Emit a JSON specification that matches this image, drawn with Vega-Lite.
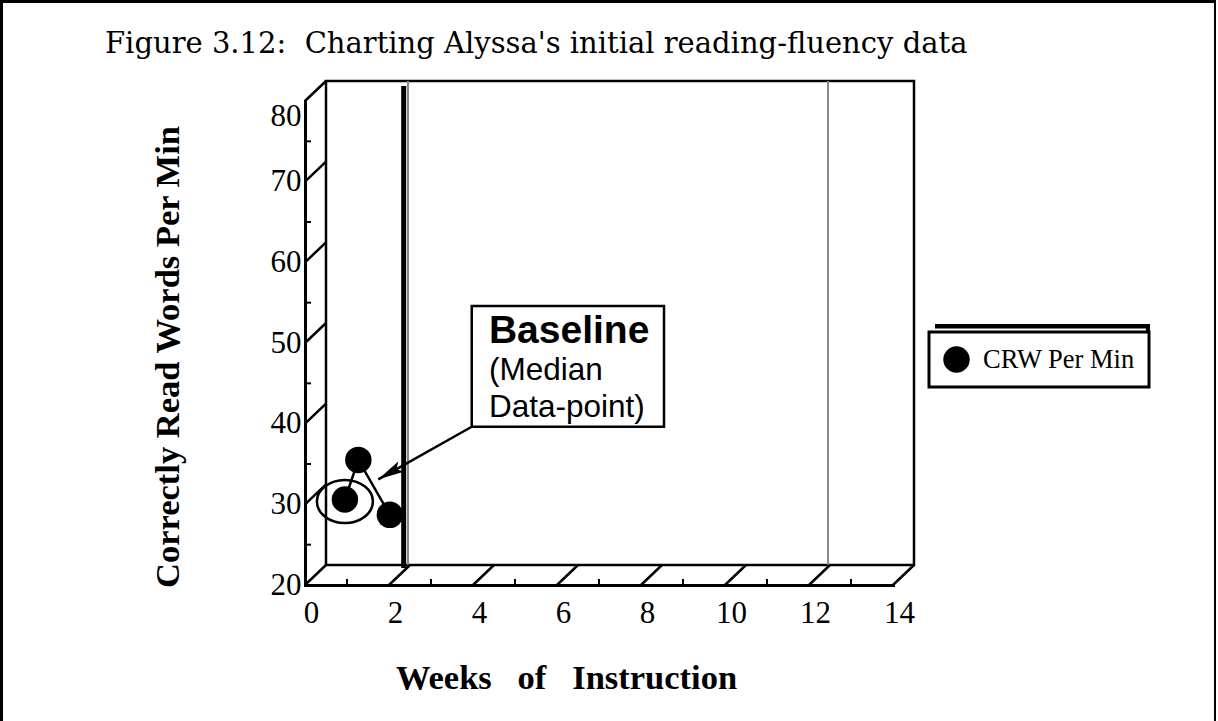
{
  "$schema": "https://vega.github.io/schema/vega-lite/v6.json",
  "width": 1214,
  "height": 740,
  "autosize": "none",
  "padding": {"left": 1.5, "top": 1.5, "right": 0, "bottom": 0},
  "background": "white",
  "title": {
    "text": "Figure 3.12:\u00a0 Charting Alyssa's initial reading-fluency data",
    "anchor": "start",
    "frame": "group",
    "font": "DejaVu Serif",
    "fontSize": 29,
    "fontWeight": "normal",
    "color": "black",
    "baseline": "alphabetic",
    "offset": 0,
    "dx": 103.5,
    "dy": 80.5
  },
  "config": {
    "view": {"stroke": "black", "strokeWidth": 3},
    "legend": {"strokeWidth": 3}
  },
  "data": {"values": [{}]},
  "datasets": {
    "crw": [
      {"week": 0.95, "crw": 30.6, "series": "CRW Per Min"},
      {"week": 1.27, "crw": 35.5, "series": "CRW Per Min"},
      {"week": 2.02, "crw": 28.7, "series": "CRW Per Min"}
    ],
    "xmajor": [{"v": 0}, {"v": 2}, {"v": 4}, {"v": 6}, {"v": 8}, {"v": 10}, {"v": 12}, {"v": 14}],
    "ymajor": [{"v": 30}, {"v": 40}, {"v": 50}, {"v": 60}, {"v": 70}, {"v": 80}],
    "xminor": [{"v": 1}, {"v": 3}, {"v": 5}, {"v": 7}, {"v": 9}, {"v": 11}, {"v": 13}],
    "yminor": [{"v": 25}, {"v": 35}, {"v": 45}, {"v": 55}, {"v": 65}, {"v": 75}],
    "phase": [{"v": 2}, {"v": 12}]
  },
  "layer": [
    {
      "mark": {"type": "rect", "fill": "transparent", "stroke": "black", "strokeWidth": 2.5, "xOffset": 21, "x2Offset": 21, "yOffset": -20, "y2Offset": -20},
      "encoding": {
        "x": {
          "datum": 0,
          "type": "quantitative",
          "scale": {"domain": [0, 14], "range": [303.5, 891.5], "nice": false, "zero": false},
          "axis": {
            "values": [0, 2, 4, 6, 8, 10, 12, 14],
            "format": "d",
            "offset": -156.5,
            "ticks": false,
            "grid": false,
            "domain": true,
            "domainColor": "black",
            "domainWidth": 3,
            "domainCap": "square",
            "labelFont": "Liberation Serif",
            "labelFontSize": 31,
            "labelColor": "black",
            "labelPadding": 13,
            "labelOffset": 6,
            "labelFlush": false,
            "labelOverlap": false,
            "title": "Weeks\u00a0\u00a0\u00a0of\u00a0\u00a0\u00a0Instruction",
            "titleFont": "Liberation Serif",
            "titleFontSize": 34.5,
            "titleFontWeight": "bold",
            "titleColor": "black",
            "titleX": 564.5,
            "titleY": 103,
            "titleBaseline": "alphabetic",
            "titleAlign": "center"
          }
        },
        "x2": {"datum": 14},
        "y": {
          "datum": 20,
          "type": "quantitative",
          "scale": {"domain": [20, 80], "range": [583.5, 99.5], "nice": false, "zero": false},
          "axis": {
            "values": [20, 30, 40, 50, 60, 70, 80],
            "format": "d",
            "offset": -303.5,
            "ticks": false,
            "grid": false,
            "domain": true,
            "domainColor": "black",
            "domainWidth": 3,
            "domainCap": "square",
            "labelFont": "Liberation Serif",
            "labelFontSize": 31,
            "labelColor": "black",
            "labelPadding": 4,
            "labelFlush": false,
            "labelOverlap": false,
            "labelBaseline": {"condition": {"test": "datum.value == 80", "value": "top"}, "value": "middle"},
            "title": "Correctly Read Words Per Min",
            "titleFont": "Liberation Serif",
            "titleFontSize": 34.5,
            "titleFontWeight": "bold",
            "titleColor": "black",
            "titleX": -127,
            "titleY": 355,
            "titleAngle": -90,
            "titleBaseline": "alphabetic",
            "titleAlign": "center"
          }
        },
        "y2": {"datum": 80}
      }
    },
    {
      "data": {"name": "phase"},
      "mark": {"type": "rule", "color": "#8a8a8a", "strokeWidth": 2, "xOffset": 19, "yOffset": -20, "y2Offset": -20},
      "encoding": {
        "x": {"field": "v", "type": "quantitative"},
        "y": {"datum": 20, "type": "quantitative"},
        "y2": {"datum": 80}
      }
    },
    {
      "data": {"name": "xminor"},
      "mark": {"type": "rule", "color": "black", "strokeWidth": 2, "y2Offset": -6},
      "encoding": {
        "x": {"field": "v", "type": "quantitative"},
        "y": {"datum": 20, "type": "quantitative"},
        "y2": {"datum": 20}
      }
    },
    {
      "data": {"name": "yminor"},
      "mark": {"type": "rule", "color": "black", "strokeWidth": 2, "x2Offset": 6},
      "encoding": {
        "y": {"field": "v", "type": "quantitative"},
        "x": {"datum": 0, "type": "quantitative"},
        "x2": {"datum": 0}
      }
    },
    {
      "data": {"name": "xmajor"},
      "mark": {"type": "rule", "color": "black", "strokeWidth": 2.5, "x2Offset": 21, "y2Offset": -20},
      "encoding": {
        "x": {"field": "v", "type": "quantitative"},
        "x2": {"field": "v"},
        "y": {"datum": 20, "type": "quantitative"},
        "y2": {"datum": 20}
      }
    },
    {
      "data": {"name": "ymajor"},
      "mark": {"type": "rule", "color": "black", "strokeWidth": 2.5, "x2Offset": 21, "y2Offset": -20},
      "encoding": {
        "y": {"field": "v", "type": "quantitative"},
        "y2": {"field": "v"},
        "x": {"datum": 0, "type": "quantitative"},
        "x2": {"datum": 0}
      }
    },
    {
      "mark": {"type": "rule", "color": "black", "strokeWidth": 5},
      "encoding": {
        "x": {"datum": 2.35, "type": "quantitative"},
        "y": {"datum": 22.1, "type": "quantitative"},
        "y2": {"datum": 81.86}
      }
    },
    {
      "data": {"name": "crw"},
      "mark": {"type": "line", "color": "black", "strokeWidth": 2.5},
      "encoding": {
        "x": {"field": "week", "type": "quantitative"},
        "y": {"field": "crw", "type": "quantitative"}
      }
    },
    {
      "data": {"name": "crw"},
      "mark": {"type": "point", "filled": true, "shape": "circle", "size": 700, "opacity": 1, "strokeWidth": 0},
      "encoding": {
        "x": {"field": "week", "type": "quantitative"},
        "y": {"field": "crw", "type": "quantitative"},
        "color": {
          "field": "series",
          "type": "nominal",
          "scale": {"range": ["black"]},
          "legend": {
            "orient": "none",
            "legendX": 927.5,
            "legendY": 330.5,
            "title": null,
            "padding": 14,
            "strokeColor": "black",
            "fillColor": "white",
            "labelFont": "Liberation Serif",
            "labelFontSize": 26.5,
            "labelColor": "black",
            "labelOffset": 13,
            "labelLimit": 400,
            "symbolType": "circle",
            "symbolSize": 700,
            "symbolFillColor": "black",
            "symbolStrokeWidth": 0,
            "encode": {"legend": {"update": {"strokeWidth": {"value": 3}}}}
          }
        }
      }
    },
    {
      "data": {"name": "crw"},
      "transform": [{"filter": "datum.week == 0.95"}],
      "mark": {"type": "point", "filled": false, "shape": "M -1 0 A 1 0.77 0 1 1 1 0 A 1 0.77 0 1 1 -1 0 Z", "size": 3136, "color": "black", "strokeWidth": 2.5, "opacity": 1, "yOffset": 2},
      "encoding": {
        "x": {"field": "week", "type": "quantitative"},
        "y": {"field": "crw", "type": "quantitative"}
      }
    },
    {
      "mark": {"type": "rect", "fill": "white", "stroke": "black", "strokeWidth": 2.5},
      "encoding": {
        "x": {"datum": 3.97, "type": "quantitative"},
        "x2": {"datum": 8.548},
        "y": {"datum": 39.62, "type": "quantitative"},
        "y2": {"datum": 54.59}
      }
    },
    {
      "mark": {"type": "rule", "color": "black", "strokeWidth": 2.5},
      "encoding": {
        "x": {"datum": 3.97, "type": "quantitative"},
        "y": {"datum": 39.62, "type": "quantitative"},
        "x2": {"datum": 1.745},
        "y2": {"datum": 33.1}
      }
    },
    {
      "mark": {"type": "point", "filled": true, "shape": "M 1 0 L -1 -0.45 L -0.6 0 L -1 0.45 Z", "size": 676, "angle": 151, "color": "black", "opacity": 1, "strokeWidth": 0},
      "encoding": {
        "x": {"datum": 2.016, "type": "quantitative"},
        "y": {"datum": 33.89, "type": "quantitative"}
      }
    },
    {
      "mark": {"type": "text", "text": "Baseline", "font": "Liberation Sans", "fontSize": 39, "fontWeight": "bold", "align": "left", "baseline": "alphabetic", "color": "black"},
      "encoding": {
        "x": {"datum": 4.38, "type": "quantitative"},
        "y": {"datum": 49.95, "type": "quantitative"}
      }
    },
    {
      "mark": {"type": "text", "text": "(Median", "font": "Liberation Sans", "fontSize": 31.5, "align": "left", "baseline": "alphabetic", "color": "black"},
      "encoding": {
        "x": {"datum": 4.38, "type": "quantitative"},
        "y": {"datum": 45.37, "type": "quantitative"}
      }
    },
    {
      "mark": {"type": "text", "text": "Data-point)", "font": "Liberation Sans", "fontSize": 31.5, "align": "left", "baseline": "alphabetic", "color": "black"},
      "encoding": {
        "x": {"datum": 4.38, "type": "quantitative"},
        "y": {"datum": 40.79, "type": "quantitative"}
      }
    },
    {
      "mark": {"type": "rule", "color": "black", "strokeWidth": 4.5},
      "encoding": {
        "x": {"datum": 15.0, "type": "quantitative"},
        "x2": {"datum": 20.12},
        "y": {"datum": 52.08, "type": "quantitative"}
      }
    },
    {
      "mark": {"type": "rule", "color": "black", "strokeWidth": 4},
      "encoding": {
        "x": {"datum": 20.07, "type": "quantitative"},
        "y": {"datum": 52.33, "type": "quantitative"},
        "y2": {"datum": 45.16}
      }
    }
  ]
}
